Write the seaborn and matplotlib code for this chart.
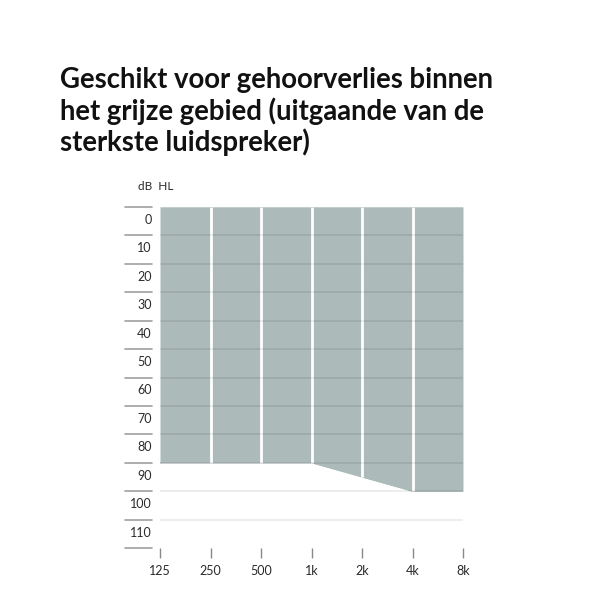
import matplotlib
matplotlib.use("Agg")
import matplotlib.pyplot as plt
import matplotlib.transforms as mtransforms
import seaborn as sns
import pandas as pd

# data
freqs = [125, 250, 500, 1000, 2000, 4000, 8000]
freq_labels = ["125", "250", "500", "1k", "2k", "4k", "8k"]
max_loss = [90, 90, 90, 90, 95, 100, 100]
db_levels = [0, 10, 20, 30, 40, 50, 60, 70, 80, 90, 100, 110]
title = "Geschikt voor gehoorverlies binnen\nhet grijze gebied (uitgaande van de\nsterkste luidspreker)"

sns.set_theme(style="white")
plt.rcParams["font.family"] = ["Lato", "DejaVu Sans"]

fill_col = "#adbaba"
fig = plt.figure(figsize=(6, 6), dpi=100)
ax = fig.add_axes([160 / 600, 1 - 548 / 600, 303 / 600, 341 / 600])

df = pd.DataFrame({"freq": freqs, "loss": max_loss})
ax.fill_between(df["freq"], 0, df["loss"], color=fill_col, lw=0, zorder=1)
sns.lineplot(data=df, x="freq", y="loss", ax=ax, color=fill_col, lw=0.8, zorder=2)

# vertical white separators inside grey area
ax.vlines(freqs[1:-1], 0, max_loss[1:-1], color="white", lw=2, zorder=3)

# horizontal gridlines
trans = mtransforms.blended_transform_factory(ax.transAxes, ax.transData)
for v in db_levels:
    ax.plot([0, 1], [v, v], transform=trans, color="black", alpha=0.08, lw=1.3, zorder=4)
for v in db_levels + [120]:
    ax.plot([-35 / 303, -8 / 303], [v, v], transform=trans, color="#a0a0a0",
            lw=1.2, clip_on=False, zorder=4)

ax.set_xscale("log", base=2)
ax.set_xlim(125, 8000)
ax.set_ylim(120, 0)
ax.set_xticks(freqs)
ax.set_xticklabels(freq_labels)
ax.minorticks_off()
ax.set_yticks([v + 4.2 for v in db_levels])
ax.set_yticklabels([str(v) for v in db_levels])
ax.tick_params(axis="y", length=0, pad=6, labelsize=9, labelcolor="#2a2a2a")
ax.tick_params(axis="x", length=7, width=1, color="#888888", pad=5,
               labelsize=9, labelcolor="#2a2a2a", bottom=True, direction="out")
for lab in ax.get_yticklabels():
    lab.set_horizontalalignment("right")
for s in ax.spines.values():
    s.set_visible(False)
ax.set_xlabel("")
ax.set_ylabel("")

fig.text(138 / 600, 1 - 187 / 600, "dB  HL", fontsize=8.5, color="#2a2a2a",
         ha="left", va="center")
fig.text(60 / 600, 1 - 67 / 600, title, fontsize=19.8, fontweight="bold",
         color="#111111", ha="left", va="top", linespacing=1.18)

fig.savefig("out.png", dpi=100)
